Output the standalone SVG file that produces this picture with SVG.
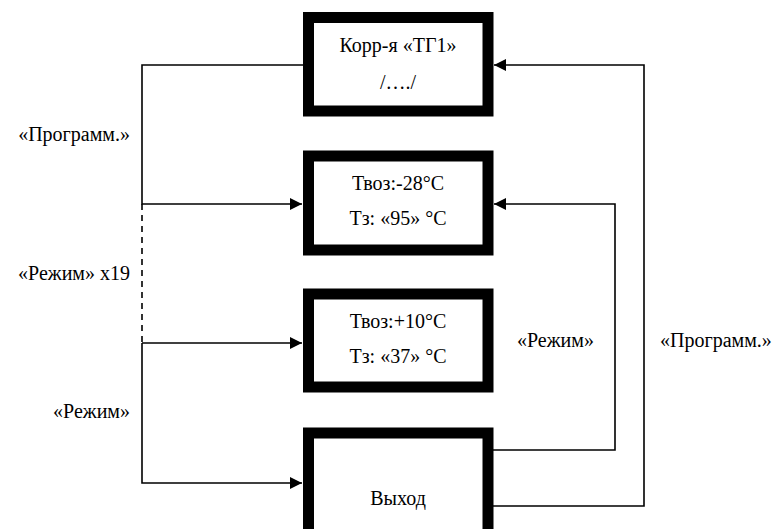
<svg xmlns="http://www.w3.org/2000/svg" width="777" height="529" viewBox="0 0 777 529" font-family="Liberation Serif, serif" font-size="20">
<style>
.box{fill:#fff;stroke:#000;stroke-width:11}
.ln{fill:none;stroke:#000;stroke-width:1.6}
.dash{stroke-dasharray:6,5}
</style>
<defs>
<marker id="ah" viewBox="0 0 12 12" refX="12" refY="6" markerWidth="12" markerHeight="12" markerUnits="userSpaceOnUse" orient="auto">
<path d="M0,0 L12,6 L0,12 Z" fill="#000"/>
</marker>
</defs>
<g id="connectors">
<path class="ln" d="M303,65 H142 V204 H302" marker-end="url(#ah)"/>
<path class="ln dash" d="M142,204 V343"/>
<path class="ln" d="M142,343 V483 H302" marker-end="url(#ah)"/>
<path class="ln" d="M142,343 H302" marker-end="url(#ah)"/>
<path class="ln" d="M493,450 H615 V204 H494" marker-end="url(#ah)"/>
<path class="ln" d="M493,506 H644 V65 H494" marker-end="url(#ah)"/>
</g>
<g id="box1">
<rect class="box" x="308.5" y="17.5" width="179.5" height="93.5"/>
<text x="398" y="52" text-anchor="middle">Корр-я «ТГ1»</text>
<text x="398" y="89" text-anchor="middle">/…./</text>
</g>
<g id="box2">
<rect class="box" x="308.5" y="156" width="179.5" height="94"/>
<text x="398" y="190" text-anchor="middle">Твоз:-28°С</text>
<text x="398" y="225" text-anchor="middle">Тз: «95» °С</text>
</g>
<g id="box3">
<rect class="box" x="308.5" y="294" width="179.5" height="93"/>
<text x="398" y="328" text-anchor="middle">Твоз:+10°С</text>
<text x="398" y="363" text-anchor="middle">Тз: «37» °С</text>
</g>
<g id="box4">
<rect class="box" x="308.5" y="433" width="179.5" height="110"/>
<text x="398" y="505" text-anchor="middle">Выход</text>
</g>
<g id="labels">
<text x="130" y="141" text-anchor="end">«Программ.»</text>
<text x="130" y="280" text-anchor="end">«Режим» x19</text>
<text x="130" y="418" text-anchor="end">«Режим»</text>
<text x="517" y="347">«Режим»</text>
<text x="660" y="347">«Программ.»</text>
</g>
</svg>
